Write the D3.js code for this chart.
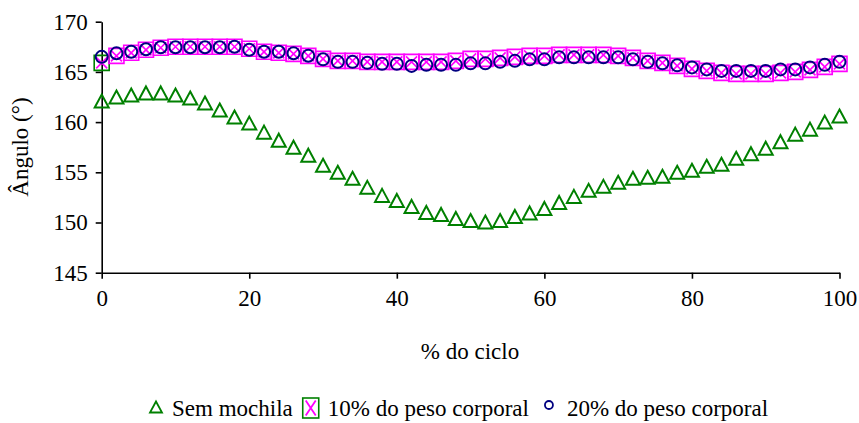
<!DOCTYPE html>
<html>
<head>
<meta charset="utf-8">
<script src="https://cdn.jsdelivr.net/npm/d3@7"></script>
<style>
  body { margin: 0; background: #fff; }
  svg { display: block; }
</style>
</head>
<body>
<svg id="chart"></svg>
<script>
// % do ciclo, every 2%
var ciclo = d3.range(0, 101, 2);

var semMochila = [162.1, 162.5, 162.7, 162.9, 162.9, 162.7, 162.4, 161.9, 161.2, 160.5,
  159.9, 159.0, 158.2, 157.5, 156.7, 155.7, 155.0, 154.4, 153.5, 152.7,
  152.2, 151.6, 151.0, 150.8, 150.4, 150.2, 150.05, 150.2, 150.6, 150.95,
  151.4, 152.0, 152.6, 153.2, 153.6, 154.0, 154.4, 154.5, 154.6, 155.0,
  155.2, 155.6, 155.8, 156.4, 156.85, 157.4, 158.05, 158.8, 159.3, 160.0, 160.6];

var peso10 = [165.9, 166.6, 166.9, 167.2, 167.4, 167.5, 167.5, 167.5, 167.5, 167.5,
  167.3, 167.0, 166.9, 166.8, 166.6, 166.3, 166.1, 166.1, 166.0, 166.0,
  166.0, 166.0, 166.0, 166.0, 166.1, 166.3, 166.3, 166.4, 166.5, 166.6,
  166.6, 166.7, 166.7, 166.7, 166.7, 166.6, 166.4, 166.1, 165.9, 165.6,
  165.3, 165.1, 164.9, 164.8, 164.8, 164.8, 164.9, 165.0, 165.2, 165.5, 165.8];

var peso20 = [166.5, 166.85, 167.0, 167.25, 167.45, 167.45, 167.45, 167.45, 167.45, 167.5,
  167.2, 167.0, 167.0, 166.85, 166.6, 166.25, 166.0, 166.0, 165.9, 165.8,
  165.8, 165.6, 165.7, 165.7, 165.7, 165.85, 165.85, 166.0, 166.1, 166.25,
  166.25, 166.45, 166.45, 166.45, 166.45, 166.45, 166.25, 166.0, 165.85, 165.65,
  165.45, 165.25, 165.1, 165.1, 165.1, 165.1, 165.25, 165.25, 165.45, 165.7, 166.0];

var xTicks = [0, 20, 40, 60, 80, 100],
    yTicks = [145, 150, 155, 160, 165, 170];

var seriesNames = ["Sem mochila", "10% do peso corporal", "20% do peso corporal"];

var width = 859, height = 423,
    font = "'Times New Roman', 'Liberation Serif', 'DejaVu Serif', serif",
    fontSize = "23px",
    green = "#008000", magenta = "#ff00ff", navy = "#000080";

var svg = d3.select("#chart").attr("width", width).attr("height", height);

var x = d3.scaleLinear().domain([0, 100]).range([101.7, 839.5]),
    y = d3.scaleLinear().domain([145, 170]).range([272.7, 21.7]);

// marker paths, centred on 0,0
function triPath(w, h) {
  return "M0," + (-h / 2) + "L" + (w / 2) + "," + (h / 2) + "L" + (-w / 2) + "," + (h / 2) + "Z";
}
function boxPath(s) {
  var a = s / 2;
  return "M" + (-a) + "," + (-a) + "H" + a + "V" + a + "H" + (-a) + "Z";
}
function crossPath(w, h) {
  var a = w / 2, b = h / 2;
  return "M" + (-a) + "," + (-b) + "L" + a + "," + b + "M" + a + "," + (-b) + "L" + (-a) + "," + b;
}
function label(sel) {
  return sel.attr("font-family", font).attr("font-size", fontSize).attr("fill", "#000");
}

// axes
var yAxis = svg.append("g")
  .attr("transform", "translate(" + x(0) + ",0)")
  .call(d3.axisLeft(y).tickValues(yTicks).tickSize(6).tickPadding(8).tickSizeOuter(0));

var xAxis = svg.append("g")
  .attr("transform", "translate(0," + y(145) + ")")
  .call(d3.axisBottom(x).tickValues(xTicks).tickSize(6).tickPadding(11).tickSizeOuter(0));

[yAxis, xAxis].forEach(function(g) {
  g.attr("font-family", font).attr("font-size", fontSize);
  g.selectAll("path, line").attr("stroke", "#000").attr("stroke-width", 1.6);
  g.selectAll("text").call(label);
});

// axis titles
svg.append("text")
  .attr("transform", "translate(28," + 147 + ") rotate(-90)")
  .attr("text-anchor", "middle")
  .call(label)
  .text("Ângulo (°)");

svg.append("text")
  .attr("x", 470)
  .attr("y", 359)
  .attr("text-anchor", "middle")
  .call(label)
  .text("% do ciclo");

// 10% series (squares with X)
var sq = svg.append("g").selectAll("g")
  .data(ciclo)
  .enter().append("g")
  .attr("transform", function(d, i) { return "translate(" + x(d) + "," + y(peso10[i]) + ")"; });
sq.append("path")
  .attr("d", boxPath(15))
  .attr("fill", "none")
  .attr("stroke", function(d, i) { return i === 0 ? green : magenta; })
  .attr("stroke-width", 1.6);
sq.append("path")
  .attr("d", crossPath(11, 11))
  .attr("fill", "none")
  .attr("stroke", magenta)
  .attr("stroke-width", 1.6);

// 20% series (circles)
svg.append("g").selectAll("circle")
  .data(ciclo)
  .enter().append("circle")
  .attr("cx", function(d) { return x(d); })
  .attr("cy", function(d, i) { return y(peso20[i]); })
  .attr("r", 6)
  .attr("fill", "none")
  .attr("stroke", navy)
  .attr("stroke-width", 2);

// sem mochila (triangles)
svg.append("g").selectAll("path")
  .data(ciclo)
  .enter().append("path")
  .attr("d", triPath(14, 13))
  .attr("transform", function(d, i) { return "translate(" + x(d) + "," + y(semMochila[i]) + ")"; })
  .attr("fill", "none")
  .attr("stroke", green)
  .attr("stroke-width", 2);

// legend, laid out from measured text widths
var ly = 409, lx = 150;
var leg = svg.append("g");

function legText(name) {
  var t = leg.append("text").attr("x", lx).attr("y", ly + 7).call(label).text(name);
  lx += t.node().getComputedTextLength();
}

leg.append("path")
  .attr("d", triPath(12, 11))
  .attr("transform", "translate(" + (lx + 6) + "," + (ly - 2) + ")")
  .attr("fill", "none").attr("stroke", green).attr("stroke-width", 1.8);
lx += 22;
legText(seriesNames[0]);

lx += 10;
leg.append("rect")
  .attr("x", lx).attr("y", ly - 11).attr("width", 16).attr("height", 20)
  .attr("fill", "none").attr("stroke", green).attr("stroke-width", 1.6);
leg.append("path")
  .attr("d", crossPath(10, 15))
  .attr("transform", "translate(" + (lx + 8) + "," + (ly - 1) + ")")
  .attr("stroke", magenta).attr("stroke-width", 1.8);
lx += 25;
legText(seriesNames[1]);

lx += 20;
leg.append("circle")
  .attr("cx", lx).attr("cy", ly - 4).attr("r", 4)
  .attr("fill", "none").attr("stroke", navy).attr("stroke-width", 1.8);
lx += 18;
legText(seriesNames[2]);
</script>
</body>
</html>
